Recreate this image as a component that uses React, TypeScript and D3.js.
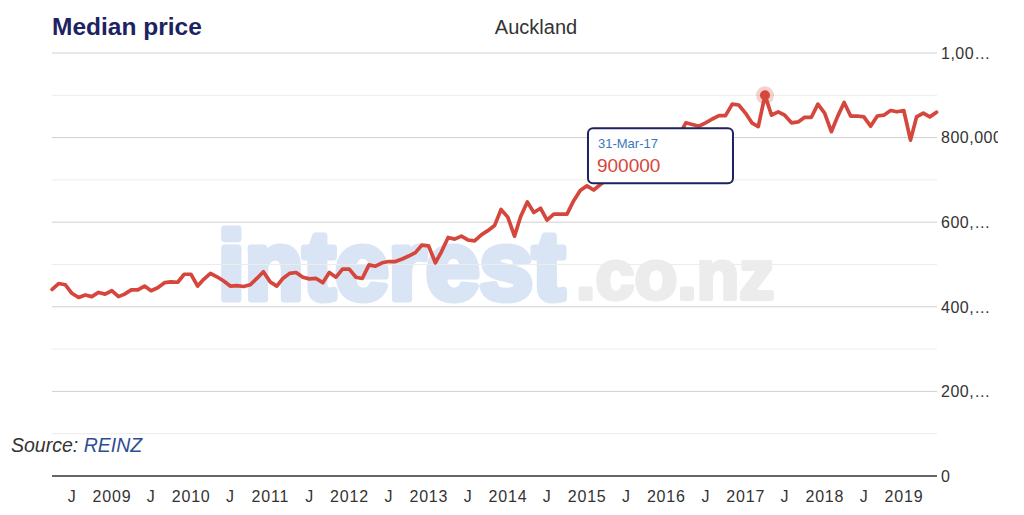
import * as d3 from "d3";

// Auckland median house price (REINZ), monthly, 31-Mar-08 .. 31-May-19
const firstMonthEnd = Date.UTC(2008, 2, 31);
const medianPrice = [
  // 2008 (Mar-Dec)
  441000, 455000, 452000, 432000, 422000, 428000, 424000, 434000, 430000, 438000,
  // 2009
  424000, 430000, 440000, 440000, 449000, 438000, 445000, 457000, 459000, 458000, 477000, 477000,
  // 2010
  449000, 465000, 479000, 471000, 461000, 449000, 450000, 448000, 452000, 467000, 483000, 459000,
  // 2011
  449000, 467000, 479000, 481000, 470000, 466000, 467000, 457000, 481000, 470000, 489000, 489000,
  // 2012
  470000, 467000, 499000, 496000, 504000, 507000, 507000, 513000, 520000, 528000, 546000, 544000,
  // 2013
  504000, 530000, 564000, 560000, 567000, 558000, 556000, 570000, 580000, 592000, 630000, 612000,
  // 2014
  567000, 613000, 648000, 623000, 633000, 605000, 619000, 619000, 619000, 651000, 675000, 686000,
  // 2015
  676000, 688000, 700000, 715000, 740000, 745000, 765000, 790000, 800000, 780000, 790000, 810000,
  // 2016
  790000, 805000, 835000, 831000, 827000, 835000, 844000, 852000, 852000, 879000, 877000, 858000,
  // 2017
  834000, 826000, 900000, 853000, 861000, 853000, 835000, 837000, 848000, 848000, 879000, 858000,
  // 2018
  814000, 849000, 883000, 851000, 851000, 849000, 827000, 851000, 853000, 864000, 861000, 864000,
  // 2019 (Jan-May)
  794000, 849000, 858000, 849000, 860000,
];

const yTickValues = [0, 200000, 400000, 600000, 800000, 1000000];
const yTickLabels = ["0", "200,…", "400,…", "600,…", "800,000", "1,00…"];
const xTickLabels = [
  "J", "2009", "J", "2010", "J", "2011", "J", "2012", "J", "2013", "J",
  "2014", "J", "2015", "J", "2016", "J", "2017", "J", "2018", "J", "2019",
];
const hoverIndex = 108; // 31-Mar-17
const hoverLabel = "31-Mar-17";

const width = 1024;
const height = 515;
const left = 52;
const right = 937;
const top = 53;
const bottom = 476;
const font = "'Liberation Sans', Arial, Helvetica, sans-serif";
const red = "#d5473c";
const navy = "#1d2261";

export default function App() {
  // month-end dates
  const dates = medianPrice.map((_, i) => {
    const d = d3.utcMonth.offset(new Date(firstMonthEnd + 86400000), i);
    return d3.utcDay.offset(d, -1);
  });
  const data = medianPrice.map((v, i) => ({ date: dates[i], value: v }));

  const x = d3
    .scaleUtc()
    .domain([new Date(Date.UTC(2009, 0, 1)), new Date(Date.UTC(2019, 0, 1))])
    .range([112, 904]);

  const y = d3.scaleLinear().domain([0, 1000000]).range([bottom, top]);

  const line = d3
    .line<{ date: Date; value: number }>()
    .x((d) => x(d.date))
    .y((d) => y(d.value));

  const gridValues = d3.range(100000, 1000001, 100000);
  const xTicks = d3.utcMonth
    .every(6)!
    .range(new Date(Date.UTC(2008, 6, 1)), new Date(Date.UTC(2019, 1, 1)));

  const hover = data[hoverIndex];
  const hx = x(hover.date);
  const hy = y(hover.value);

  return (
    <svg
      width={width}
      height={height}
      style={{ position: "absolute", left: 0, top: 0, display: "block", background: "#fff" }}
      fontFamily={font}
    >
      <defs>
        <clipPath id="ylab">
          <rect x={0} y={0} width={998} height={height} />
        </clipPath>
      </defs>

      {/* watermark */}
      <g strokeLinejoin="round">
        <text x={218} y={299} fontSize={96} fontWeight={900} fill="#d9e5f5" stroke="#d9e5f5" strokeWidth={7}>
          interest
        </text>
        <text x={576} y={299} fontSize={70} fontWeight={700} fill="#ececec" stroke="#ececec" strokeWidth={4}>
          .co.nz
        </text>
      </g>

      {/* grid */}
      {gridValues.map((v) => (
        <line
          key={v}
          x1={left}
          x2={right}
          y1={y(v)}
          y2={y(v)}
          stroke={v % 200000 === 0 ? "#cfcfcf" : "#ececec"}
          strokeWidth={1}
        />
      ))}
      <line x1={left} x2={right} y1={y(0)} y2={y(0)} stroke="#666" strokeWidth={2} />

      {/* y labels on right */}
      <g clipPath="url(#ylab)">
        {yTickValues.map((v, i) => (
          <text
            key={v}
            x={941}
            y={y(v)}
            dy="0.36em"
            fontSize={16}
            letterSpacing={0.5}
            fill="#333"
          >
            {yTickLabels[i]}
          </text>
        ))}
      </g>

      {/* x labels */}
      {xTicks.map((d, i) => (
        <text
          key={i}
          x={x(d)}
          y={502}
          textAnchor="middle"
          fontSize={16}
          letterSpacing={0.8}
          fill="#333"
        >
          {xTickLabels[i]}
        </text>
      ))}

      {/* titles */}
      <text x={52} y={35} fontSize={24.5} fontWeight={700} fill={navy}>
        Median price
      </text>
      <text x={536} y={34} fontSize={20} textAnchor="middle" fill="#333">
        Auckland
      </text>

      {/* series */}
      <path
        d={line(data) ?? ""}
        fill="none"
        stroke={red}
        strokeWidth={3.7}
        strokeLinejoin="round"
        strokeLinecap="round"
      />

      {/* hover marker */}
      <circle cx={hx} cy={hy} r={9} fill={red} opacity={0.25} />
      <circle cx={hx} cy={hy} r={5} fill={red} />

      {/* source */}
      <text x={11} y={452} fontSize={19.5} fontStyle="italic" fill="#333">
        Source: <tspan fill="#2d4f8f">REINZ</tspan>
      </text>

      {/* tooltip */}
      <g transform={`translate(${hx - 177},${hy + 33})`}>
        <rect x={0} y={0} width={145} height={55} rx={5} fill="#fff" stroke={navy} strokeWidth={2} />
        <text x={10} y={20} fontSize={13} fill="#3a78bd">
          {hoverLabel}
        </text>
        <text x={9} y={44} fontSize={19} fill={red}>
          {hover.value}
        </text>
      </g>
    </svg>
  );
}
